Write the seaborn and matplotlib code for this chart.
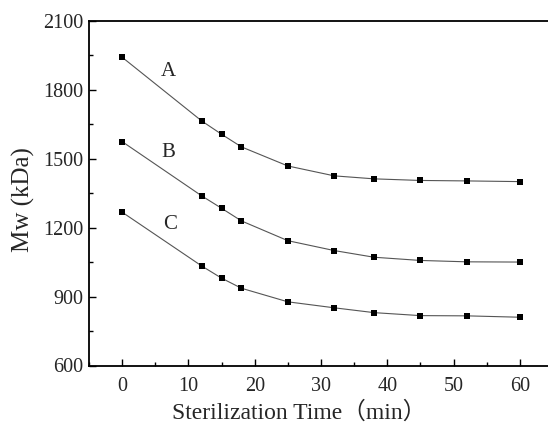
import matplotlib
matplotlib.use("Agg")
import matplotlib.pyplot as plt
import seaborn as sns
import pandas as pd
from matplotlib.ticker import MultipleLocator

time_min = [0, 12, 15, 18, 25, 32, 38, 45, 52, 60]
mw_A = [1941, 1664, 1606, 1551, 1468, 1425, 1412, 1405, 1403, 1400]
mw_B = [1574, 1338, 1284, 1229, 1143, 1100, 1071, 1057, 1051, 1050]
mw_C = [1267, 1033, 980, 936, 877, 851, 830, 817, 816, 810]
series_names = ["A", "B", "C"]
label_pos = [(7.0, 1878), (7.0, 1525), (7.3, 1215)]

sns.set_style("white")
plt.rcParams['font.family'] = ['Liberation Serif', 'Noto Sans CJK SC', 'DejaVu Sans']

df = pd.DataFrame({
    "time": time_min * 3,
    "mw": mw_A + mw_B + mw_C,
    "series": sum([[s] * len(time_min) for s in series_names], []),
})

fig = plt.figure(figsize=(5.48, 4.28), dpi=100)
ax = fig.add_axes([89 / 548, 62.5 / 428, 464 / 548, 344.8 / 428])

sns.lineplot(data=df, x="time", y="mw", units="series", estimator=None,
             color="#555555", linewidth=0.8, ax=ax, legend=False)
sns.scatterplot(data=df, x="time", y="mw", color="black", marker="s",
                s=16, edgecolor="black", linewidth=0, ax=ax, legend=False, zorder=3)

for name, (lx, ly) in zip(series_names, label_pos):
    ax.text(lx, ly, name, fontsize=15, ha="center", va="center")

ax.set_xlim(-5, 65)
ax.set_ylim(600, 2100)
ax.xaxis.set_major_locator(MultipleLocator(10))
ax.xaxis.set_minor_locator(MultipleLocator(5))
ax.yaxis.set_major_locator(MultipleLocator(300))
ax.yaxis.set_minor_locator(MultipleLocator(150))
ax.tick_params(axis="both", which="major", direction="in", length=5, width=1,
               labelsize=14.5, bottom=True, left=True, top=False, right=False,
               color="black")
ax.tick_params(axis="both", which="minor", direction="in", length=3, width=1,
               bottom=True, left=True, top=False, right=False, color="black")
ax.tick_params(axis="x", which="major", pad=8)
ax.tick_params(axis="y", which="major", pad=4)

for sp in ax.spines.values():
    sp.set_visible(True)
    sp.set_color("black")
    sp.set_linewidth(1.3)

ax.set_xlabel("Sterilization Time（min）", fontsize=17)
ax.set_ylabel("Mw (kDa)", fontsize=18)
ax.xaxis.set_label_coords((299 - 89) / 464, -(401 - 365.5) / 344.8)
ax.yaxis.set_label_coords((35 - 89) / 464, (365.5 - 200) / 344.8)

fig.savefig("out.png", dpi=100)
